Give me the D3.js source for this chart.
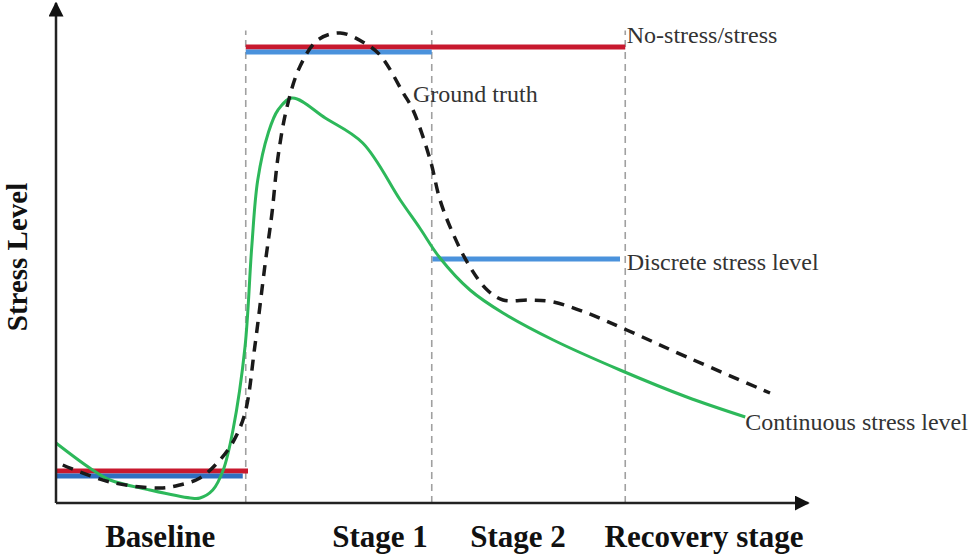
<!DOCTYPE html>
<html>
<head>
<meta charset="utf-8">
<script src="https://cdn.jsdelivr.net/npm/d3@7"></script>
<style>
  html, body { margin: 0; padding: 0; background: #fff; }
  svg { display: block; }
</style>
</head>
<body>
<div id="chart"></div>
<script>
// time on x (0..100), stress on y (0..100)
var stageBounds = [25.3, 50.1, 75.9]
var stageNames = ["Baseline", "Stage 1", "Stage 2", "Recovery stage"]
var stageLabelX = [13.9, 43.2, 61.6, 86.4]

// no-stress / stress (red)
var binaryLevels = [
  {x0: 0, x1: 25.6, y: 6.4},
  {x0: 25.3, x1: 75.9, y: 91.2}
]
// discrete stress level (blue)
var discreteLevels = [
  {x0: 0, x1: 24.9, y: 5.4},
  {x0: 25.3, x1: 50.1, y: 90.2},
  {x0: 50.2, x1: 75.2, y: 48.8}
]

// ground truth (dashed black)
var truthX = [0.9, 7.2, 13.9, 16.5, 19.2, 21.5, 23.6, 25.2, 26.5, 27.9, 28.8, 29.6, 30.8, 32.5, 34.9, 37.9, 40.9, 43.2, 46.3, 47.6, 49.9, 51.2, 52.9, 55.2, 57.5, 59.6, 63.2, 66.3, 70.8, 76.1, 84.1, 95.2]
var truthY = [7.6, 4.2, 3.0, 3.6, 5.0, 8.0, 12.2, 18.0, 31.2, 48.0, 58.0, 69.2, 79.2, 87.2, 92.6, 94.0, 92.2, 89.6, 82.0, 78.6, 68.6, 60.6, 54.0, 47.2, 42.6, 40.6, 40.6, 40.2, 38.0, 34.6, 29.2, 22.0]

// continuous stress level (green)
var contX = [0, 4.5, 7.2, 12.5, 17.9, 19.2, 20.9, 22.3, 23.6, 25.2, 26.1, 26.9, 28.3, 29.6, 31.5, 35.9, 40.9, 45.9, 48.5, 51.2, 55.2, 59.6, 66.3, 75.2, 84.1, 91.9]
var contY = [12.0, 7.0, 4.6, 2.6, 1.0, 1.0, 2.6, 6.6, 14.6, 31.2, 51.2, 64.6, 74.0, 78.6, 81.0, 77.0, 72.0, 60.6, 55.0, 49.0, 42.6, 38.0, 32.6, 26.6, 21.2, 17.2]

var notes = [
  {text: "No-stress/stress", x: 76.1, y: 92.0},
  {text: "Ground truth", x: 47.6, y: 80.2},
  {text: "Discrete stress level", x: 76.1, y: 46.6},
  {text: "Continuous stress level", x: 91.9, y: 14.6}
]

var width = 980, height = 560

var x = d3.scaleLinear().domain([0, 100]).range([56, 806])
var y = d3.scaleLinear().domain([0, 100]).range([503, 3])

var svg = d3.select("#chart").append("svg")
  .attr("width", width)
  .attr("height", height)

var defs = svg.append("defs")
defs.append("marker")
  .attr("id", "arrow")
  .attr("viewBox", "0 0 10 10")
  .attr("refX", 9).attr("refY", 5)
  .attr("markerWidth", 6).attr("markerHeight", 6)
  .attr("markerUnits", "strokeWidth")
  .attr("orient", "auto")
  .append("path")
  .attr("d", "M0,0 L10,5 L0,10 z")
  .attr("fill", "#111")

// stage separators
svg.selectAll(".sep")
  .data(stageBounds)
  .enter().append("line")
  .attr("class", "sep")
  .attr("x1", function(d){ return x(d) })
  .attr("x2", function(d){ return x(d) })
  .attr("y1", y(0))
  .attr("y2", y(94.5))
  .attr("stroke", "#a0a0a0")
  .attr("stroke-width", 1.6)
  .attr("stroke-dasharray", "7,5")

// level bars
svg.selectAll(".bin")
  .data(binaryLevels)
  .enter().append("line")
  .attr("class", "bin")
  .attr("x1", function(d){ return x(d.x0) })
  .attr("x2", function(d){ return x(d.x1) })
  .attr("y1", function(d){ return y(d.y) })
  .attr("y2", function(d){ return y(d.y) })
  .attr("stroke", "#c8192e")
  .attr("stroke-width", 5)

svg.selectAll(".disc")
  .data(discreteLevels)
  .enter().append("line")
  .attr("class", "disc")
  .attr("x1", function(d){ return x(d.x0) })
  .attr("x2", function(d){ return x(d.x1) })
  .attr("y1", function(d){ return y(d.y) })
  .attr("y2", function(d){ return y(d.y) })
  .attr("stroke", function(d, i){ return i == 0 ? "#2f6fc0" : "#4a92dc" })
  .attr("stroke-width", 5)

var line = d3.line()
  .x(function(d){ return x(d[0]) })
  .y(function(d){ return y(d[1]) })
  .curve(d3.curveCatmullRom.alpha(0.5))

svg.append("path")
  .datum(contX.map(function(v, i){ return [v, contY[i]] }))
  .attr("d", line)
  .attr("fill", "none")
  .attr("stroke", "#2db85a")
  .attr("stroke-width", 3)

svg.append("path")
  .datum(truthX.map(function(v, i){ return [v, truthY[i]] }))
  .attr("d", line)
  .attr("fill", "none")
  .attr("stroke", "#1a1a1a")
  .attr("stroke-width", 3.5)
  .attr("stroke-dasharray", "11,8")

// axes
svg.append("line")
  .attr("x1", x(0)).attr("y1", y(0))
  .attr("x2", x(0)).attr("y2", y(100))
  .attr("stroke", "#222").attr("stroke-width", 2.5)
  .attr("marker-end", "url(#arrow)")
svg.append("line")
  .attr("x1", x(0)).attr("y1", y(0))
  .attr("x2", x(100.3)).attr("y2", y(0))
  .attr("stroke", "#222").attr("stroke-width", 2.5)
  .attr("marker-end", "url(#arrow)")

// annotations
svg.selectAll(".note")
  .data(notes)
  .enter().append("text")
  .attr("class", "note")
  .attr("x", function(d){ return x(d.x) })
  .attr("y", function(d){ return y(d.y) })
  .attr("font-family", "'Liberation Serif', 'Times New Roman', serif")
  .attr("font-size", "24px")
  .attr("fill", "#333")
  .text(function(d){ return d.text })

// stage names
svg.selectAll(".stage")
  .data(stageNames)
  .enter().append("text")
  .attr("class", "stage")
  .attr("x", function(d, i){ return x(stageLabelX[i]) })
  .attr("y", 547)
  .attr("text-anchor", "middle")
  .attr("font-family", "'Liberation Serif', 'Times New Roman', serif")
  .attr("font-weight", "bold")
  .attr("font-size", "31px")
  .attr("fill", "#111")
  .text(function(d){ return d })

svg.append("text")
  .attr("transform", "translate(27," + 257 + ") rotate(-90)")
  .attr("text-anchor", "middle")
  .attr("font-family", "'Liberation Serif', 'Times New Roman', serif")
  .attr("font-weight", "bold")
  .attr("font-size", "29px")
  .attr("fill", "#111")
  .text("Stress Level")
</script>
</body>
</html>
